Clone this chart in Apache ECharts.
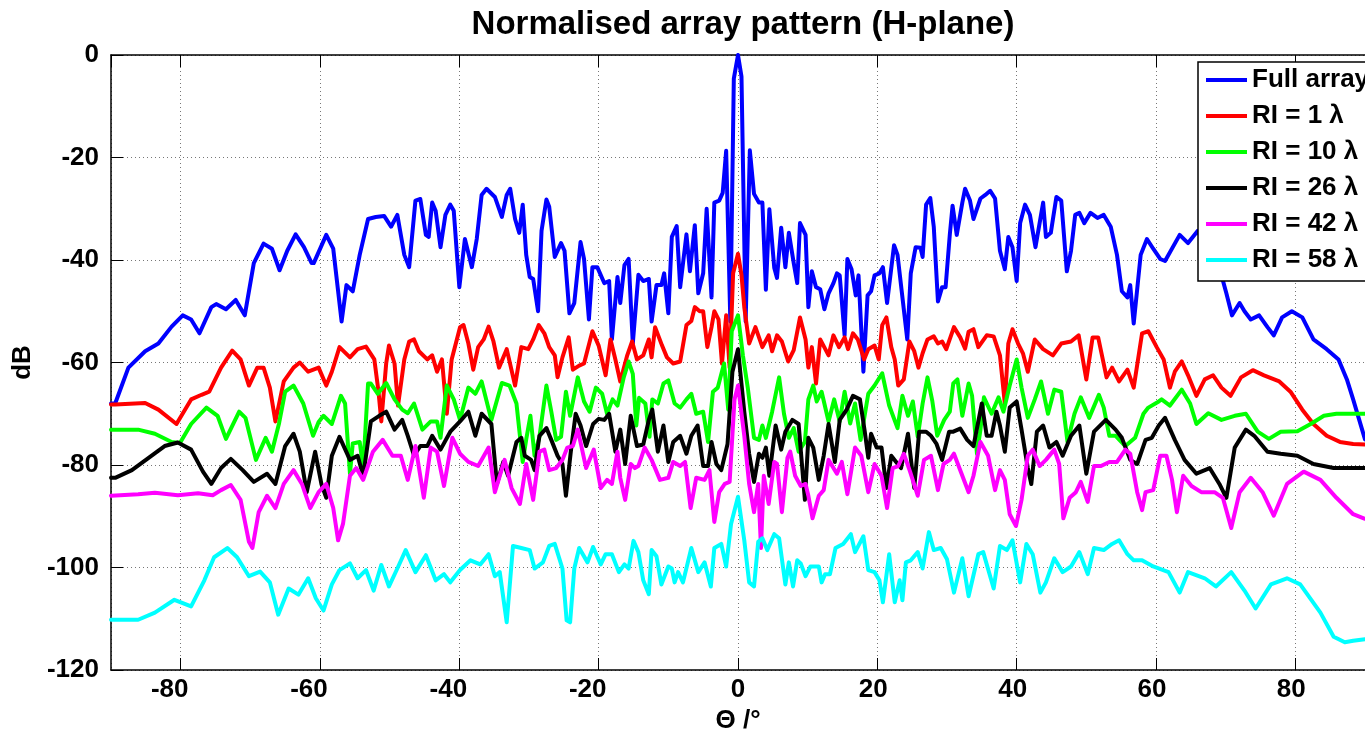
<!DOCTYPE html>
<html>
<head>
<meta charset="utf-8">
<title>Normalised array pattern (H-plane)</title>
<script src="https://cdn.jsdelivr.net/npm/echarts@6/dist/echarts.min.js"></script>
<style>
  html, body { margin: 0; padding: 0; background: #fff; }
  #chart { width: 1365px; height: 739px; }
</style>
</head>
<body>
<div id="chart"></div>
<script>
// Array pattern cuts in the H-plane: [theta (deg), level (dB)]
const fullArray = [[-90,-68],[-89.4,-68],[-87.5,-61],[-85.1,-57.8],[-83.2,-56.3],[-81.3,-53],[-79.7,-50.8],[-78.5,-51.6],[-77.3,-54.3],[-75.6,-49.2],[-74.9,-48.6],[-73.5,-49.6],[-72.1,-47.8],[-70.8,-50.8],[-69.5,-40.6],[-68.1,-36.8],[-66.9,-37.8],[-65.8,-42],[-64.7,-38.2],[-63.5,-35],[-62.3,-37.5],[-61.2,-40.6],[-60.9,-40.6],[-59.1,-35.1],[-58.1,-37.8],[-56.9,-52],[-56.2,-44.9],[-55.3,-46.1],[-54.3,-39],[-53.1,-32],[-52,-31.6],[-50.8,-31.4],[-49.8,-33.5],[-48.9,-31.2],[-47.9,-39],[-47.2,-41.4],[-46.3,-28.4],[-45.6,-28.1],[-44.8,-35.1],[-44.4,-35.5],[-43.9,-28.8],[-43.4,-30.4],[-42.7,-37.5],[-42,-31.2],[-41.3,-29.2],[-40.8,-30.4],[-40,-45.3],[-39.2,-35.9],[-38.2,-41.4],[-37.5,-35.9],[-36.8,-27.3],[-36.1,-26.1],[-34.9,-27.7],[-33.9,-31.6],[-33.2,-27.3],[-32.7,-26.1],[-32,-32],[-31.4,-34.7],[-30.9,-29.2],[-30.4,-39],[-29.9,-43.3],[-29.4,-43.7],[-28.7,-50],[-28.2,-34.3],[-27.5,-28.2],[-27.1,-29.6],[-26.3,-39.4],[-25.4,-36.7],[-24.9,-38.2],[-24.2,-50.4],[-23.5,-48.4],[-22.6,-36.5],[-22.1,-39.8],[-21.4,-51.6],[-20.9,-41.4],[-20.2,-41.4],[-19.2,-44.5],[-18.5,-44.1],[-18.1,-55.5],[-17.3,-43.3],[-16.9,-48.4],[-16.3,-41],[-15.7,-39.8],[-15.1,-56.3],[-14.3,-42.9],[-13.6,-44.1],[-12.8,-43.7],[-12.4,-52],[-11.7,-44.9],[-11,-44.9],[-10.6,-42.6],[-10,-50.4],[-9.5,-35.5],[-8.8,-33.4],[-8.3,-45.3],[-7.4,-35],[-6.9,-42.2],[-6.2,-33.2],[-5.7,-46.5],[-5,-42.6],[-4.5,-30],[-3.8,-47.3],[-3.4,-28.8],[-2.7,-28.4],[-2.2,-26.9],[-1.7,-18.7],[-1.1,-52],[-0.6,-4.6],[0,0],[0.5,-4.2],[1.1,-52],[1.7,-18.6],[2.3,-27.1],[3,-28.8],[3.5,-28.8],[4,-45.8],[4.5,-30.1],[5.2,-41.5],[5.6,-43.5],[6.2,-33.7],[6.8,-41.4],[7.3,-34.7],[8,-40.6],[8.5,-44.5],[8.9,-32.8],[9.7,-35.1],[10.1,-49.2],[10.6,-42.2],[11.2,-45.3],[11.8,-45.7],[12.4,-49.6],[13,-46.5],[13.7,-44.5],[14.2,-42.6],[14.6,-43],[15.3,-54.7],[15.7,-39.8],[16.3,-41.8],[16.9,-46.9],[17.3,-43],[18,-61.8],[18.6,-46.9],[19.1,-46.1],[19.6,-43],[20.3,-42.6],[20.8,-41.4],[21.4,-48.4],[22.4,-37.1],[22.9,-39],[23.5,-46.1],[24.3,-55.5],[24.8,-42.6],[25.5,-37.5],[26.2,-37.6],[26.5,-39.4],[27,-29.2],[27.6,-27.9],[28.1,-33.5],[28.7,-48.1],[29.3,-45.3],[29.8,-45.3],[30.4,-35.1],[30.8,-29.4],[31.4,-35.1],[32.2,-28.8],[32.6,-26.1],[33.3,-28.4],[33.8,-32],[34.8,-28],[35.5,-27.3],[36.2,-26.5],[36.9,-28],[37.6,-38.2],[38.3,-41.8],[38.8,-35.5],[39.4,-37.5],[40,-44.1],[40.5,-32.8],[41.2,-29.2],[41.9,-31.2],[42.7,-37.5],[43.8,-28.8],[44.2,-35.5],[44.9,-34.7],[45.7,-27.7],[46.4,-28.4],[47.2,-42.2],[47.8,-38.2],[48.4,-31.2],[49,-30.8],[49.7,-32.8],[50.6,-30.8],[51.6,-31.8],[52.5,-31.2],[53.5,-33.5],[54.4,-39],[55.1,-46.1],[55.9,-47.3],[56.3,-44.9],[56.8,-52.4],[57.8,-39],[58.7,-35.9],[59.6,-37.8],[60.6,-39.8],[61.3,-40.2],[63.4,-35.1],[64.6,-36.7],[66,-34.3],[67,-37],[68,-36],[69,-41],[70.1,-46.5],[70.9,-50.8],[72,-48.4],[72.7,-50],[73.6,-51.6],[74.8,-50.8],[76,-53.1],[76.9,-54.7],[78.1,-51.2],[79.5,-50],[81,-51.2],[82.6,-55.5],[84.5,-57.4],[86.2,-59.4],[87.4,-63.3],[88.3,-67.2],[90,-75]];

const ri1 = [[-90,-68.2],[-89.4,-68.2],[-85.1,-67.9],[-83.2,-69.2],[-80.6,-72],[-78.5,-67.2],[-77,-66.3],[-75.9,-65.7],[-74.2,-61],[-72.6,-57.7],[-71.4,-59.4],[-70.2,-64.5],[-69,-61],[-68.1,-61],[-67.2,-64.9],[-66.4,-71.5],[-65.2,-63.7],[-63.8,-61],[-62.9,-60],[-61.7,-61.8],[-60.2,-61],[-59.1,-64.5],[-58.3,-61.8],[-57.2,-57],[-55.7,-59],[-54.6,-57.4],[-53.4,-56.9],[-52.2,-59.4],[-51.6,-65.7],[-51.2,-71.5],[-50.5,-60.2],[-50.1,-56.7],[-49.3,-60.2],[-48.8,-68.4],[-47.9,-59.4],[-47.2,-55.9],[-46.5,-55.5],[-45.8,-57.8],[-44.6,-59.4],[-43.9,-58.6],[-43.2,-61.8],[-42.5,-59.4],[-41.8,-70],[-41.1,-59.4],[-39.9,-53.1],[-39.4,-52.7],[-38.7,-56.3],[-38,-61.4],[-37.3,-57],[-36.5,-55.5],[-35.8,-53],[-35.1,-55.9],[-34.3,-61],[-33.2,-57.4],[-32,-64.5],[-31.1,-57],[-30.1,-57.4],[-29.4,-55.5],[-28.6,-52.7],[-27.8,-54.3],[-27.1,-57],[-26.3,-58.6],[-25.9,-62.9],[-25.2,-59],[-24.3,-55.1],[-23.7,-61.4],[-22.8,-60.6],[-22.1,-60.2],[-20.9,-53.9],[-20,-56.7],[-19,-62.5],[-18.3,-55.5],[-17.6,-59.4],[-16.9,-63.7],[-15.9,-58.6],[-15.2,-55.9],[-14.5,-59.4],[-13.6,-58.6],[-12.8,-55.5],[-12.4,-59],[-11.9,-53.1],[-10.9,-56.7],[-10.2,-59],[-9.3,-60.2],[-8.3,-59.8],[-7.4,-52.7],[-6.7,-51.9],[-6.2,-49.2],[-5.5,-50],[-5,-50],[-4.4,-57],[-3.8,-53.1],[-3.4,-50],[-2.8,-51.6],[-2.3,-60.2],[-1.7,-50.8],[-1.2,-61],[-0.7,-42.6],[0,-38.8],[0.5,-42.9],[0.9,-49.2],[1.6,-56.3],[2.5,-53.1],[3.5,-57],[4.4,-54.7],[4.9,-57.8],[5.6,-54.7],[6.3,-55.9],[7.2,-59.8],[8,-57.6],[8.9,-51.2],[9.7,-55.5],[10.1,-61],[10.6,-57],[11.2,-64.1],[11.8,-55.5],[13,-58.6],[13.7,-54.7],[14.5,-57],[15.3,-55.1],[15.8,-57.4],[16.5,-54.3],[17.2,-55.5],[18.1,-59.4],[18.7,-57.4],[19.6,-56.7],[20.2,-59.4],[20.7,-52.7],[21.3,-51.2],[22,-57],[22.5,-59.4],[23,-64.5],[23.8,-63.3],[24.6,-55.9],[25.3,-57.8],[25.9,-61],[26.5,-58.2],[27.2,-55.5],[28.1,-54.9],[28.7,-56.3],[29.3,-55.9],[29.9,-57.4],[31,-53.1],[31.9,-55.1],[32.6,-57.3],[33.1,-54],[33.8,-53.5],[34.5,-57],[35.7,-54.7],[36.7,-54.9],[37.6,-58.6],[38.3,-68],[38.8,-56.3],[39.4,-53.5],[40.2,-56.3],[40.9,-58.2],[41.6,-61.8],[42.6,-55.5],[43.8,-57.4],[45.2,-58.6],[46.4,-56.3],[47.8,-55.9],[48.9,-54.7],[50,-63.3],[50.9,-55.1],[51.7,-55.1],[52.9,-62.9],[53.7,-61],[54.7,-63.7],[55.9,-61.4],[56.8,-64.9],[58,-54.3],[58.9,-53.9],[60.1,-57],[61.1,-59.4],[62,-64.9],[62.7,-61.8],[63.7,-59.8],[64.6,-62.5],[65.8,-66.5],[67,-63.3],[68.2,-62.5],[69.4,-64.9],[70.7,-66.5],[72.2,-62.9],[73.9,-61.5],[75.5,-62.5],[77.7,-63.7],[79.3,-65.7],[81,-69.2],[82.6,-72],[84.5,-74.3],[86.4,-75.5],[88.3,-75.9],[90,-76]];

const ri10 = [[-90,-73.1],[-86.1,-73.1],[-83.7,-73.9],[-81.3,-75.5],[-80.1,-75.7],[-78.5,-72],[-76.3,-68.8],[-74.7,-70.4],[-73.5,-74.9],[-71.6,-69.6],[-70.7,-70.8],[-69.2,-79],[-67.8,-74.7],[-66.9,-77.4],[-65.9,-72],[-65,-65.7],[-63.8,-64.5],[-62.4,-68],[-61,-74.3],[-60.2,-71.6],[-59.5,-70.4],[-58.3,-72],[-57,-66.5],[-56.4,-68],[-55.7,-81.7],[-55.3,-75.8],[-54.3,-75.5],[-53.8,-80.6],[-53.1,-64.1],[-52.7,-64.1],[-51.7,-66.1],[-50.5,-64],[-49.3,-67.2],[-48.2,-69.2],[-47.4,-69.9],[-46.5,-68],[-45.3,-73.1],[-44.1,-71.5],[-43.2,-71.5],[-42.7,-74.7],[-41.8,-64.5],[-40.8,-67.2],[-39.9,-71.2],[-38.7,-64.9],[-37.7,-66.1],[-36.8,-63.7],[-35.4,-71.2],[-33.9,-64],[-32.8,-64.5],[-31.8,-68],[-30.9,-79.4],[-30.4,-75],[-29.8,-70.4],[-29.2,-78.2],[-28.5,-74.5],[-27.5,-64.5],[-26.8,-69.6],[-26.1,-75.1],[-25.4,-74.5],[-24.7,-65.7],[-24.1,-70.4],[-23,-62.9],[-22.1,-67.6],[-21.3,-69.6],[-20.4,-64.9],[-19.5,-66.1],[-18.8,-70],[-18,-67.2],[-17.3,-68.4],[-16.4,-62.9],[-15.7,-59.8],[-15.1,-62.2],[-14.6,-72.3],[-14.2,-66.9],[-13.3,-68],[-12.7,-74.5],[-12.3,-67.2],[-11.5,-68],[-10.7,-64.1],[-10,-63.5],[-9.1,-68],[-8.3,-68.8],[-7.4,-67.2],[-6.7,-66.1],[-6,-70],[-5,-69.6],[-4.3,-75.5],[-3.6,-65.7],[-2.9,-64.9],[-2,-60.2],[-1.4,-69.2],[-0.9,-53.9],[0,-50.8],[0.7,-58.6],[1.4,-64.9],[2.3,-74.7],[3,-75.1],[3.5,-72.3],[4,-74.7],[4.9,-69.6],[5.9,-62.9],[6.6,-70],[7.3,-74.7],[8,-72.8],[8.7,-77.4],[9.6,-75.5],[10.1,-67.2],[10.8,-64.5],[11.3,-67.6],[12,-65.7],[13,-71.5],[13.8,-67.2],[14.6,-71.5],[15.3,-65.7],[16.1,-71.9],[16.8,-68],[17.6,-75.1],[18.7,-66.1],[19.6,-64.5],[20.7,-62.1],[21.7,-68.4],[22.9,-72.8],[23.6,-66.5],[24.4,-70.4],[25.1,-67.6],[25.8,-74.5],[26.5,-68],[27.2,-62.9],[27.9,-67.6],[28.6,-74.3],[29.6,-71.2],[30.4,-69.6],[30.9,-64.1],[31.5,-63.3],[32.2,-70.4],[33.1,-64.1],[33.6,-66.5],[34.3,-77.8],[34.8,-73.1],[35.3,-66.8],[36.4,-70],[37.4,-66.8],[38.1,-69.6],[39,-64.5],[40,-59.4],[40.7,-64.9],[41.6,-70.8],[42.6,-67.2],[43.5,-63.7],[44.5,-70],[45.4,-65.3],[46.4,-65.7],[47.3,-75.5],[48.3,-70],[49.2,-66.8],[50.4,-70.8],[51.8,-66.3],[52.5,-68.8],[53.3,-74.3],[54.2,-74.3],[55.6,-76.3],[57,-74.7],[58.2,-70],[58.9,-68.8],[60.4,-67.6],[60.8,-67.2],[62,-68.4],[63.7,-65.3],[64.9,-68],[65.8,-72],[67.5,-69.9],[69.4,-71.2],[71.3,-70.4],[72.9,-70],[74.6,-73.5],[76.2,-74.9],[77.9,-73.5],[80.3,-73.4],[82.2,-72],[84.1,-70.4],[85.9,-70],[88.3,-70],[90,-70]];

const ri26 = [[-90,-82.5],[-89.4,-82.5],[-87,-81],[-84.6,-78.6],[-82.3,-76.3],[-80.4,-75.6],[-78.5,-77],[-76.8,-81.3],[-75.6,-83.7],[-74.2,-80.6],[-72.8,-78.8],[-71.1,-81],[-69.5,-83.3],[-67.6,-81.7],[-66.4,-83.7],[-65,-76.3],[-63.8,-73.9],[-62.9,-77.4],[-61.9,-85.3],[-60.7,-77.4],[-59.8,-83.7],[-59.1,-86.4],[-58.3,-78.2],[-57.2,-74.5],[-55.7,-79],[-54.6,-78.2],[-53.8,-82.1],[-52.7,-71.5],[-51.5,-70.4],[-50.5,-69.6],[-49.3,-73.1],[-48.2,-71.2],[-47.4,-74.3],[-46.5,-78.2],[-45.6,-76.3],[-44.6,-76.3],[-43.9,-74.3],[-42.7,-77],[-41.3,-73.5],[-39.9,-71.5],[-38.7,-69.6],[-37.7,-74.3],[-36.8,-70],[-35.4,-72],[-34.6,-83.7],[-33.7,-79.4],[-33,-82.1],[-31.8,-75.5],[-31.1,-74.7],[-30.6,-78.2],[-29.7,-79],[-29.2,-81],[-28.5,-74.3],[-27.5,-72.8],[-26.8,-75.1],[-25.9,-78.2],[-25.2,-79.8],[-24.7,-86],[-24,-77.4],[-23.3,-70],[-22.6,-72.3],[-21.8,-76.3],[-20.8,-72],[-20,-71],[-19.2,-71.2],[-18.5,-70],[-17.6,-77.4],[-16.9,-73.1],[-16.2,-79.8],[-15.4,-70.4],[-14.5,-76.3],[-13.6,-76],[-12.8,-71.2],[-12.3,-69.2],[-11.5,-77.4],[-10.7,-72.3],[-10,-79.4],[-9.3,-75.5],[-8.3,-74.3],[-7.4,-77.8],[-6.7,-74.3],[-5.8,-72.3],[-5,-80.2],[-4.3,-80.2],[-3.8,-75.5],[-3.1,-79.8],[-2.4,-81],[-1.5,-75.9],[-0.8,-61.8],[0,-57.4],[0.9,-69.6],[1.6,-77.8],[2.3,-83.3],[3,-77.8],[3.5,-78.6],[4,-76.6],[4.5,-82.1],[5.4,-72.3],[6.2,-77],[6.8,-73.5],[7.8,-71.2],[8.7,-72],[9.6,-86.8],[10.1,-74.7],[10.8,-76.6],[11.6,-82.9],[12.3,-78.2],[13,-72],[13.9,-79.4],[14.6,-71.2],[15.6,-69.2],[16.5,-66.5],[17.5,-67.2],[18.2,-73.5],[18.7,-78.6],[19.1,-73.9],[19.9,-76.6],[20.6,-76.6],[21.3,-84.5],[22,-78.2],[22.7,-79.4],[23.4,-80.6],[24.4,-73.9],[25.3,-84.5],[26,-73.5],[27,-73.5],[27.7,-74.3],[28.5,-75.9],[29.3,-79],[30.3,-73.5],[30.9,-73.5],[31.9,-72.9],[32.9,-75.1],[33.8,-76.3],[35,-68],[35.7,-74.3],[36.4,-74.3],[37.1,-69.6],[37.6,-72.3],[38.3,-77.4],[39,-68.8],[40,-67.6],[40.7,-73.1],[41.6,-80.6],[42.1,-83.7],[42.9,-73.5],[43.8,-72.3],[44.7,-76.6],[45.7,-75.5],[46.6,-78.2],[47.8,-74.3],[49,-72.3],[50,-81.7],[51.1,-73.5],[52.8,-71.2],[54.2,-73.1],[55.1,-74.7],[56.3,-79],[57.3,-79.8],[58.5,-75.1],[59.4,-74.7],[60.4,-72.3],[61.3,-70.8],[62.7,-75.1],[64.1,-79],[65.8,-81.7],[67.7,-80.6],[69.1,-83.7],[70.1,-86.4],[71.3,-76.6],[72.9,-73.1],[74.1,-74.3],[76,-77.4],[77.9,-77.8],[80.3,-78.2],[82.6,-79.8],[85.5,-80.6],[88.3,-80.6],[90,-80.6]];

const ri42 = [[-90,-86],[-86.1,-85.7],[-83.7,-85.4],[-80.4,-85.9],[-77.5,-85.5],[-75.4,-85.9],[-74.2,-84.9],[-72.8,-83.9],[-71.4,-86.8],[-70.2,-95],[-69.7,-96.2],[-68.8,-89.2],[-67.6,-86],[-66.4,-88.4],[-65.2,-83.7],[-63.8,-81],[-62.6,-83.7],[-61.4,-88.4],[-60.2,-85.3],[-59.1,-83.7],[-58.1,-88.4],[-57.4,-94.7],[-56.7,-91.5],[-55.7,-82.1],[-54.8,-80.6],[-53.8,-82.9],[-52.4,-77.4],[-51,-75.1],[-49.6,-78.2],[-48.4,-78.2],[-47.4,-82.9],[-46.3,-76.3],[-45.1,-86.4],[-44.1,-76.6],[-43.2,-77.4],[-42.2,-84.1],[-41,-74.7],[-39.9,-77.8],[-38.7,-79.4],[-37.3,-80.2],[-35.8,-76.6],[-34.9,-85.3],[-33.5,-79],[-32.5,-84.5],[-31.3,-87.6],[-30.4,-79.8],[-29.4,-86.8],[-28.5,-77.4],[-27.8,-77],[-27.1,-81],[-26.1,-80.6],[-25.2,-79],[-24.5,-76.6],[-23.7,-76.3],[-23,-73.1],[-21.8,-80.6],[-20.7,-77],[-19.7,-84.5],[-18.8,-82.9],[-18.1,-83.7],[-17.3,-77.4],[-16.9,-82.5],[-16.2,-86.8],[-15.4,-79.8],[-14.8,-80.6],[-14.3,-80.2],[-13.4,-76.6],[-12.4,-79],[-11.2,-82.9],[-10,-82.5],[-9.3,-79.4],[-8.3,-80.2],[-7.6,-79.4],[-6.8,-88.4],[-6,-82.5],[-4.8,-82.9],[-4.1,-81],[-3.4,-91.1],[-2.7,-85.3],[-1.9,-83.7],[-1.2,-83.3],[-0.5,-67.2],[0,-64.5],[0.9,-74.3],[1.6,-83.7],[2.3,-89.2],[2.9,-83.7],[3.3,-96.2],[3.7,-82.1],[4.4,-87.6],[5.2,-79.4],[5.6,-79.8],[6.3,-89.2],[7.1,-78.6],[7.5,-77.4],[8.2,-82.1],[9,-84.1],[9.7,-83.7],[10.1,-86],[10.7,-90.4],[11.6,-86],[12.3,-84.9],[13,-79],[14.2,-81.7],[14.9,-79.4],[15.7,-85.7],[16.8,-76.6],[17.7,-78.2],[18.7,-85.3],[19.6,-79.8],[20.6,-82.1],[21.4,-88.4],[22.2,-80.6],[23,-80.2],[23.8,-77.8],[24.7,-81.3],[25.8,-86],[26.7,-79],[27.7,-78.2],[28.7,-84.9],[29.5,-79.8],[30.4,-79],[31,-77.8],[32.2,-82.1],[33.1,-85.3],[33.8,-82.1],[34.8,-75.5],[35.9,-78.2],[36.9,-84.9],[37.6,-81],[38.3,-82.9],[39,-89.6],[39.9,-91.9],[40.7,-86.8],[41.6,-78.2],[42.3,-77],[43.3,-80.2],[44.2,-79],[45.4,-77],[46.1,-79.8],[46.7,-90.4],[47.6,-86.4],[48.5,-85.3],[49.2,-83.3],[50.2,-87.2],[51.1,-80.2],[52.1,-80.2],[53.3,-79.4],[54.4,-79.4],[55.6,-77],[56.3,-77.8],[57.3,-85.3],[58,-88.8],[58.5,-85.3],[59.6,-84.9],[60.6,-78.2],[61.5,-78.2],[62.3,-82.9],[63,-89.2],[63.9,-82.1],[65.1,-84.1],[66.5,-85.3],[68.4,-85.3],[69.6,-86.4],[70.8,-92.3],[72,-85.3],[73.6,-82.5],[75.3,-85.3],[76.9,-89.9],[78.8,-83.7],[81.2,-81.3],[83.6,-82.9],[85.9,-86.4],[88.3,-89.6],[90,-90.5]];

const ri58 = [[-90,-110.2],[-86.1,-110.2],[-83.7,-108.8],[-80.9,-106.3],[-78.5,-107.6],[-76.6,-102.5],[-75.2,-98],[-73.3,-96.2],[-71.9,-98],[-70.2,-101.7],[-68.6,-100.8],[-67.2,-102.9],[-66,-109.2],[-64.5,-104.1],[-63.1,-105.3],[-61.7,-102.1],[-60.6,-106],[-59.5,-108.4],[-58.3,-103.3],[-57.2,-100.5],[-55.7,-99.2],[-54.6,-102.1],[-53.4,-100.5],[-52.3,-104.5],[-51.2,-99.5],[-50.1,-103.7],[-48.9,-100.2],[-47.7,-96.6],[-46.3,-100.9],[-44.8,-97.6],[-43.4,-102.5],[-42.2,-101.3],[-41.3,-102.9],[-39.9,-100.5],[-38.4,-98.6],[-37,-99.4],[-35.8,-97.4],[-34.9,-101.7],[-34.2,-100.9],[-33.2,-110.7],[-32.3,-95.8],[-31.1,-96.2],[-29.9,-96.6],[-29.2,-100.2],[-28,-99],[-27.1,-95.8],[-26.3,-95.4],[-25.2,-100.2],[-24.6,-110.3],[-24.1,-110.7],[-23.5,-100.2],[-22.8,-96.2],[-21.6,-99],[-20.8,-96],[-19.7,-99.4],[-19,-97.4],[-18.1,-97.4],[-17.1,-100.9],[-16.3,-99.4],[-15.7,-100.2],[-15,-94.8],[-14.3,-97],[-13.6,-102.5],[-12.8,-105.2],[-12.4,-96.6],[-11.7,-97.8],[-11,-103.3],[-10,-99.8],[-9.5,-100.2],[-9.1,-102.9],[-8.6,-100.9],[-7.9,-102.9],[-6.7,-96.2],[-5.7,-100.9],[-4.8,-99],[-3.9,-103.7],[-3.4,-96.2],[-2.4,-95.4],[-1.7,-99.8],[-1,-91.5],[0,-86.2],[0.9,-94.7],[1.6,-102.9],[2.3,-103.7],[2.9,-95],[3.5,-94.3],[4.2,-96.6],[5.2,-93.5],[5.9,-94.3],[6.8,-103.3],[7.3,-99],[7.9,-103.7],[8.5,-98.6],[9,-99.2],[9.7,-101.7],[10.4,-99.8],[11.6,-99.8],[12,-102.9],[12.5,-101.3],[13.2,-101.3],[14,-96.2],[15.1,-95.4],[16.2,-93.5],[16.8,-97],[18,-93.9],[18.7,-100.5],[19.6,-100.9],[20.3,-102.5],[20.8,-106.8],[21.7,-97.4],[22.5,-106.8],[23.2,-102.5],[23.6,-106.4],[24.1,-99],[24.8,-98.6],[25.8,-97],[26.5,-100.2],[27.4,-93.1],[28.1,-96.6],[29.1,-96.2],[30,-98.4],[31,-104.9],[32.2,-98.2],[33.1,-105.6],[34.5,-97.4],[35.2,-97],[36.7,-104.1],[37.6,-95.8],[38.6,-96.6],[39.4,-94.7],[40.5,-102.9],[41.4,-95.4],[42.3,-97.4],[43.4,-104.9],[44.2,-102.9],[45.4,-98.2],[46.6,-100.9],[47.8,-99.8],[49,-97],[50.2,-101.3],[51.1,-96.2],[52.5,-96.6],[53.7,-95.4],[54.7,-94.7],[55.9,-97.4],[56.8,-98.6],[58,-98.6],[59.6,-99.8],[61.8,-100.9],[63.4,-104.9],[64.6,-100.9],[67,-102.1],[68.6,-103.7],[70.8,-100.9],[72.7,-104.5],[74.3,-108],[76.5,-103.3],[78.8,-102.1],[80.7,-103.3],[83.6,-108.8],[85.5,-113.5],[87.1,-114.6],[88.3,-114.3],[90,-114]];

const seriesNames = ['Full array', 'RI = 1 \u03bb', 'RI = 10 \u03bb', 'RI = 26 \u03bb', 'RI = 42 \u03bb', 'RI = 58 \u03bb'];
const seriesData = [fullArray, ri1, ri10, ri26, ri42, ri58];
const seriesColors = ['#0000ff', '#ff0000', '#00ff00', '#000000', '#ff00ff', '#00ffff'];
const thetaRange = [-90, 90];
const dbRange = [-120, 0];
const dbStep = 20;

const FONT = '"Liberation Sans", Arial, Helvetica, sans-serif';
const gridDots = { type: [1, 3], color: '#777', width: 1 };
const frameLine = { show: true, onZero: false, lineStyle: { color: '#000', width: 1.5 } };
const innerTicks = { show: true, inside: true, length: 12, lineStyle: { color: '#000', width: 1 } };

const chart = echarts.init(document.getElementById('chart'), null, { renderer: 'canvas' });

chart.setOption({
  animation: false,
  backgroundColor: '#fff',
  title: {
    text: 'Normalised array pattern (H-plane)',
    left: 743,
    top: 8,
    padding: 0,
    textAlign: 'center',
    textStyle: { fontFamily: FONT, fontSize: 33, fontWeight: 'bold', color: '#000' }
  },
  legend: {
    orient: 'vertical',
    left: 1198,
    top: 62,
    padding: [3, 30, 6, 8],
    itemGap: 6,
    itemWidth: 41,
    itemHeight: 4,
    icon: 'rect',
    selectedMode: false,
    backgroundColor: '#fff',
    borderColor: '#000',
    borderWidth: 1.5,
    z: 10,
    data: seriesNames,
    textStyle: { fontFamily: FONT, fontSize: 26, fontWeight: 'bold', color: '#000', lineHeight: 30 }
  },
  grid: { left: 111, top: 55, bottom: 69, right: -12, containLabel: false },
  xAxis: [
    {
      type: 'value',
      position: 'bottom',
      min: thetaRange[0],
      max: thetaRange[1],
      splitNumber: 9,
      name: '\u0398 /\u00b0',
      nameLocation: 'middle',
      nameGap: 33,
      nameTextStyle: { fontFamily: FONT, fontSize: 26, fontWeight: 'bold', color: '#000' },
      axisLine: frameLine,
      axisTick: innerTicks,
      axisLabel: {
        margin: 7,
        showMinLabel: false,
        showMaxLabel: false,
        fontFamily: FONT, fontSize: 26, fontWeight: 'bold', color: '#000',
        formatter: function (v) {
          if (v < 0) return '{n|' + v + '}';
          if (v > 0) return '{p|' + v + '}';
          return '' + v;
        },
        rich: {
          n: { fontFamily: FONT, fontSize: 26, fontWeight: 'bold', color: '#000', padding: [0, 22, 0, 0] },
          p: { fontFamily: FONT, fontSize: 26, fontWeight: 'bold', color: '#000', padding: [0, 8, 0, 0] }
        }
      },
      splitLine: { show: true, lineStyle: gridDots }
    },
    {
      type: 'value',
      position: 'top',
      min: thetaRange[0],
      max: thetaRange[1],
      splitNumber: 9,
      axisLine: frameLine,
      axisTick: innerTicks,
      axisLabel: { show: false },
      splitLine: { show: false }
    }
  ],
  yAxis: {
    type: 'value',
    position: 'left',
    min: dbRange[0],
    max: dbRange[1],
    interval: dbStep,
    name: 'dB',
    nameLocation: 'middle',
    nameGap: 74,
    nameTextStyle: { fontFamily: FONT, fontSize: 26, fontWeight: 'bold', color: '#000' },
    axisLine: frameLine,
    axisTick: innerTicks,
    axisLabel: { margin: 12, fontFamily: FONT, fontSize: 26, fontWeight: 'bold', color: '#000' },
    splitLine: { show: true, lineStyle: gridDots }
  },
  series: seriesNames.map(function (name, i) {
    return {
      name: name,
      type: 'line',
      xAxisIndex: 0,
      data: seriesData[i],
      showSymbol: false,
      symbol: 'none',
      clip: true,
      color: seriesColors[i],
      lineStyle: { color: seriesColors[i], width: 4, join: 'round', cap: 'round' },
      emphasis: { disabled: true }
    };
  })
});
</script>
</body>
</html>
